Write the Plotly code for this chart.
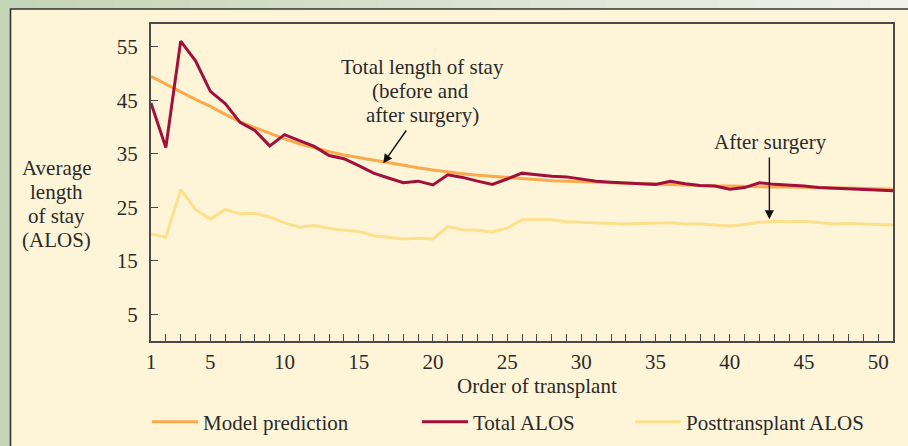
import plotly.graph_objects as go

order = list(range(1, 52))

model_prediction = [49.5, 48.0, 46.6, 45.2, 43.9, 42.4, 41.0, 39.9, 38.8, 37.8,
                    36.9, 36.1, 35.4, 34.8, 34.3, 33.8, 33.3, 32.8, 32.4, 32.0,
                    31.6, 31.3, 31.0, 30.8, 30.5, 30.3, 30.1, 30.0, 29.9, 29.8,
                    29.7, 29.6, 29.5, 29.4, 29.3, 29.2, 29.2, 29.1, 29.0, 29.0,
                    28.9, 28.9, 28.8, 28.8, 28.7, 28.7, 28.6, 28.6, 28.5, 28.5, 28.4]

total_alos = [44.5, 36.2, 56.1, 52.4, 46.7, 44.4, 40.9, 39.4, 36.5, 38.6,
              37.5, 36.4, 34.7, 34.1, 32.8, 31.4, 30.5, 29.6, 29.9, 29.2,
              31.1, 30.6, 29.9, 29.3, 30.3, 31.4, 31.1, 30.8, 30.7, 30.3,
              29.9, 29.7, 29.5, 29.4, 29.3, 29.9, 29.4, 29.1, 29.0, 28.4,
              28.7, 29.6, 29.3, 29.2, 29.0, 28.7, 28.6, 28.5, 28.4, 28.3, 28.1]

post_alos = [20.0, 19.4, 28.3, 24.6, 22.8, 24.6, 23.8, 23.9, 23.2, 22.1,
             21.3, 21.6, 21.1, 20.7, 20.5, 19.7, 19.4, 19.1, 19.2, 19.1,
             21.4, 20.8, 20.7, 20.4, 21.1, 22.7, 22.7, 22.7, 22.3, 22.2,
             22.1, 22.0, 21.9, 22.0, 22.0, 22.1, 21.9, 21.9, 21.7, 21.5,
             21.8, 22.2, 22.4, 22.3, 22.4, 22.2, 21.9, 22.0, 21.9, 21.7, 21.7]

x_ticks = [1, 5, 10, 15, 20, 25, 30, 35, 40, 45, 50]
y_ticks = [5, 15, 25, 35, 45, 55]

FONT = "Liberation Serif, Times New Roman, serif"
FS = 21
CREAM = "#fef5d9"
TXT = "#2a2a2a"
ORANGE = "#f9aa4c"
RED = "#a0103a"
YELLOW = "#fde08c"

W, H = 908, 446
L, R, T, B = 151, 893, 24, 341
pw, ph = R - L, B - T

def px(x):
    return (x - L) / pw

def py(y):
    return (B - y) / ph

def dy(pix):
    # pixel row -> data value on the y axis (range 0..59.3)
    return 59.3 * (B - pix) / ph

fig = go.Figure()
fig.add_trace(go.Scatter(x=order, y=model_prediction, mode="lines", name="Model prediction",
                         line=dict(color=ORANGE, width=3), legend="legend"))
fig.add_trace(go.Scatter(x=order, y=total_alos, mode="lines", name="Total ALOS",
                         line=dict(color=RED, width=3), legend="legend2"))
fig.add_trace(go.Scatter(x=order, y=post_alos, mode="lines", name="Posttransplant ALOS",
                         line=dict(color=YELLOW, width=3), legend="legend3"))

shapes = []
# gradient top strip
n = 24
c0 = (197, 213, 183)
c1 = (239, 241, 234)
for i in range(n):
    t = i / (n - 1)
    c = tuple(int(c0[k] + (c1[k] - c0[k]) * t) for k in range(3))
    x0 = i * W / n
    shapes.append(dict(type="rect", xref="paper", yref="paper",
                       x0=px(x0), x1=px(x0 + W / n + 1), y0=py(10), y1=py(-2),
                       fillcolor="rgb(%d,%d,%d)" % c, line=dict(width=0), layer="below"))
# card
shapes.append(dict(type="rect", xref="paper", yref="paper",
                   x0=px(10.5), x1=px(930), y0=py(470), y1=py(9),
                   fillcolor=CREAM, line=dict(color="#333333", width=1.6), layer="below"))

legend_common = dict(orientation="h", yanchor="middle", xanchor="left",
                     font=dict(family=FONT, size=FS, color=TXT),
                     bgcolor="rgba(0,0,0,0)", itemwidth=46, y=py(422))

ann = []
def text(s, x, y, xref="x", yref="y"):
    ann.append(dict(text=s, x=x, y=y, xref=xref, yref=yref, showarrow=False,
                    font=dict(family=FONT, size=FS, color=TXT),
                    xanchor="center", yanchor="middle"))

text("Total length of stay", 19.3, dy(67))
text("(before and", 19.13, dy(91))
text("after surgery)", 19.3, dy(115))
text("After surgery", 42.77, 37.28)
for s, yy in [("Average", 167.5), ("length", 191.5), ("of stay", 215.5), ("(ALOS)", 239.5)]:
    text(s, px(56.5), py(yy), "paper", "paper")
text("Order of transplant", px(536.5), py(386), "paper", "paper")

ann.append(dict(x=16.65, y=33.24, ax=18.27, ay=39.66, xref="x", yref="y",
                axref="x", ayref="y", showarrow=True, arrowhead=2, arrowsize=1.3,
                arrowwidth=1.4, arrowcolor="#111111", text=""))
ann.append(dict(x=42.67, y=22.77, ax=42.67, ay=34.6, xref="x", yref="y",
                axref="x", ayref="y", showarrow=True, arrowhead=2, arrowsize=1.3,
                arrowwidth=1.4, arrowcolor="#111111", text=""))

fig.update_layout(
    width=W, height=H,
    margin=dict(l=L, r=W - R, t=T, b=H - B, pad=0, autoexpand=False),
    paper_bgcolor="#c5d5b7",
    plot_bgcolor=CREAM,
    font=dict(family=FONT, size=FS, color=TXT),
    shapes=shapes,
    annotations=ann,
    showlegend=True,
    legend=dict(legend_common, x=px(147)),
    legend2=dict(legend_common, x=px(417)),
    legend3=dict(legend_common, x=px(630)),
)
fig.update_xaxes(range=[1, 51], tickmode="array", tickvals=x_ticks, ticks="inside",
                 ticklen=7, tickwidth=1.3, tickcolor="#4a4a4a",
                 minor=dict(dtick=1, tick0=1, ticks="inside", ticklen=7, tickwidth=1.3, tickcolor="#4a4a4a"),
                 showline=True, linecolor="#4a4a4a", linewidth=2, mirror=True,
                 showgrid=False, zeroline=False, ticklabelstandoff=1,
                 tickfont=dict(family=FONT, size=FS, color=TXT))
fig.update_yaxes(range=[0, 59.3], tickmode="array", tickvals=y_ticks, ticks="inside",
                 ticklen=7, tickwidth=1.3, tickcolor="#4a4a4a",
                 showline=True, linecolor="#4a4a4a", linewidth=2, mirror=True,
                 showgrid=False, zeroline=False, ticklabelstandoff=7,
                 tickfont=dict(family=FONT, size=FS, color=TXT))

fig.write_html("out.html", config={"displayModeBar": False},
               post_script="document.body.style.margin='0px';document.body.style.overflow='hidden';")
